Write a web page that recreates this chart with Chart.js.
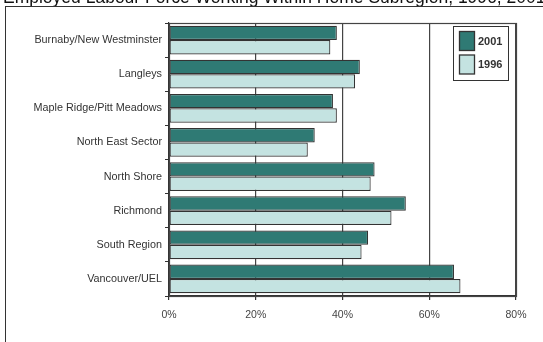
<!DOCTYPE html>
<html>
<head>
<meta charset="utf-8">
<script src="https://cdn.jsdelivr.net/npm/chart.js@4/dist/chart.umd.min.js"></script>
<style>
  html, body { margin: 0; padding: 0; background: #fff; }
  #wrap { position: relative; width: 543px; height: 342px; }
</style>
</head>
<body>
<div id="wrap"><canvas id="c" width="543" height="342"></canvas></div>
<script>
// Share of employed labour force working within its home subregion (%)
const title = 'Employed Labour Force Working Within Home Subregion, 1996, 2001';
const subregions = [
  'Burnaby/New Westminster',
  'Langleys',
  'Maple Ridge/Pitt Meadows',
  'North East Sector',
  'North Shore',
  'Richmond',
  'South Region',
  'Vancouver/UEL'
];
const seriesNames = ['2001', '1996'];
const values2001 = [38.7, 44.0, 37.8, 33.6, 47.4, 54.6, 45.9, 65.7];
const values1996 = [37.2, 42.9, 38.7, 32.0, 46.5, 51.3, 44.4, 67.2];
const axisTicks = [0, 20, 40, 60, 80];

const darkTeal = '#2f7a74';
const paleTeal = '#c4e3e1';
const ink = '#333333';
const font = '"Liberation Sans", Arial, sans-serif';

// Frame, title and boxed legend drawn around the chart area
const decor = {
  id: 'decor',
  beforeDraw(chart) {
    const ctx = chart.ctx;
    ctx.save();
    ctx.fillStyle = '#fff';
    ctx.fillRect(0, 0, chart.width, chart.height);
    ctx.fillStyle = '#111';
    ctx.font = '17.5px ' + font;
    ctx.textBaseline = 'alphabetic';
    ctx.textAlign = 'left';
    ctx.fillText(title, 3, 2.5);
    ctx.strokeStyle = ink;
    ctx.lineWidth = 1;
    ctx.strokeRect(5.5, 6.5, chart.width + 20, chart.height + 20);
    ctx.restore();
  },
  afterDatasetsDraw(chart) {
    const ctx = chart.ctx;
    const a = chart.chartArea;
    ctx.save();
    ctx.strokeStyle = '#444';
    ctx.lineWidth = 1.2;
    ctx.strokeRect(Math.round(a.left) + 0.5, Math.round(a.top) + 0.5,
                   Math.round(a.right - a.left), Math.round(a.bottom - a.top));
    // legend box
    const bx = 453.5, by = 26.5, bw = 55, bh = 54;
    ctx.fillStyle = '#fff';
    ctx.fillRect(bx, by, bw, bh);
    ctx.strokeStyle = ink;
    ctx.lineWidth = 1;
    ctx.strokeRect(bx, by, bw, bh);
    chart.data.datasets.forEach((ds, i) => {
      const sy = 31.5 + i * 23.5;
      ctx.fillStyle = ds.backgroundColor;
      ctx.fillRect(459.5, sy, 15, 19);
      ctx.strokeStyle = ink;
      ctx.lineWidth = 1.3;
      ctx.strokeRect(459.5, sy, 15, 19);
      ctx.fillStyle = '#333';
      ctx.font = 'bold 11px ' + font;
      ctx.textBaseline = 'middle';
      ctx.textAlign = 'left';
      ctx.fillText(ds.label, 478, sy + 10);
    });
    ctx.restore();
  }
};

new Chart(document.getElementById('c'), {
  type: 'bar',
  data: {
    labels: subregions,
    datasets: [
      { label: seriesNames[0], data: values2001, backgroundColor: darkTeal },
      { label: seriesNames[1], data: values1996, backgroundColor: paleTeal }
    ]
  },
  options: {
    indexAxis: 'y',
    responsive: false,
    animation: false,
    devicePixelRatio: 1,
    layout: { padding: { top: 23, right: 27, left: 0, bottom: 0 } },
    datasets: {
      bar: {
        borderColor: ink,
        borderWidth: 1.2,
        borderSkipped: false,
        categoryPercentage: 0.84,
        barPercentage: 1.0
      }
    },
    plugins: {
      legend: { display: false },
      tooltip: { enabled: false },
      title: { display: false }
    },
    scales: {
      x: {
        min: axisTicks[0],
        max: axisTicks[axisTicks.length - 1],
        afterBuildTicks(scale) { scale.ticks = axisTicks.map(v => ({ value: v })); },
        afterFit(scale) { scale.height = 46; },
        ticks: {
          callback: v => v + '%',
          color: '#444',
          font: { family: font, size: 10.5 },
          padding: 9,
          maxRotation: 0
        },
        grid: {
          color: '#444',
          lineWidth: 1.2,
          drawTicks: true,
          tickLength: 4,
          tickColor: '#333'
        },
        border: { display: true, color: '#333', width: 1.2 }
      },
      y: {
        afterFit(scale) { scale.width = 169; },
        ticks: {
          color: '#333',
          font: { family: font, size: 10.8 },
          padding: 3,
          autoSkip: false
        },
        grid: {
          offset: true,
          drawOnChartArea: false,
          drawTicks: true,
          tickLength: 4,
          tickColor: '#333'
        },
        border: { display: true, color: '#333', width: 1.2 }
      }
    }
  },
  plugins: [decor]
});
</script>
</body>
</html>
